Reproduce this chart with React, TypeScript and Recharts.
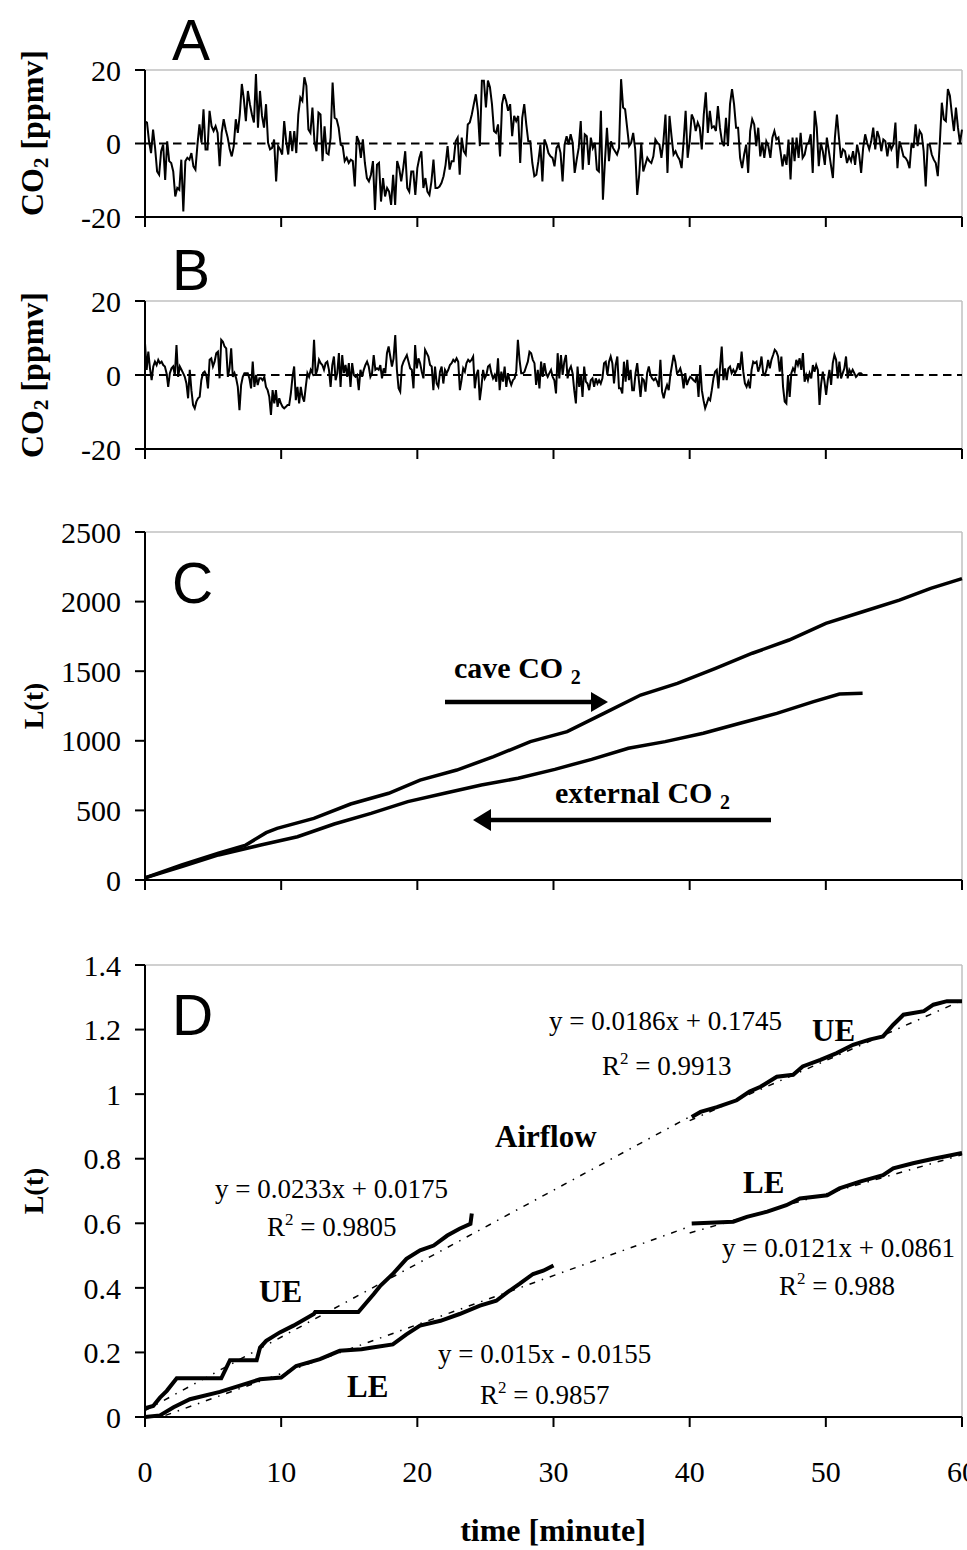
import { LineChart, Line, XAxis, YAxis, ReferenceLine } from "recharts";

// A: CO2 deviation [ppmv], one reading roughly every 9 s, 0-60 min
const co2A_0_15 = [
  6.0, 5.7, 0.6, -2.6, 3.8, -1.2, -7.6, -8.5, -2.1, -0.3,
  -9.9, 0.6, -4.8, -5.3, -7.6, -14.4, -12.1, -12.6, -4.4, -18.5,
  -4.8, -3.9, -4.4, -2.6, -6.2, -7.1, -0.3, 5.2, 0.2, 9.3,
  -1.6, -1.6, 8.9, 4.7, 3.4, 4.7, 2.9, -6.2, 2.9, 6.6,
  3.8, 1.6, -1.6, -3.5, -0.7, 6.6, 2.9, 7.9, 16.2, 12.1,
  6.1, 14.3, 10.7, 7.9, 5.7, 18.9, 4.3, 14.3, 7.5, 4.3,
  10.7, 0.2, -1.6, -1.2, 1.1, -10.3, -0.7, -1.6, -3.0, 6.1,
  0.6, -3.0, 3.4, -2.1, 3.4, -2.6, 7.9, 12.5, 11.6, 18.0,
  15.7, 3.8, 2.9, 9.8, 0.6, -2.1, 8.4, 7.9, -4.8, 4.7,
  -2.6, -3.0, 1.6, 16.6, 7.0, 6.6,
];
const co2A_15_30 = [
  4.3, -0.3, -0.7, -4.8, -3.9, -5.3, -4.4, -4.8, -11.7,
  2.0, 0.6, -3.9, 1.1, -5.3, -9.4, -10.3, -8.5, -4.8, -18.1,
  -5.8, -5.3, -15.8, -9.4, -14.4, -12.1, -13.1, -16.7, -8.5, -16.7,
  -4.8, -6.7, -10.3, -6.7, -2.1, -12.1, -13.1, -7.6, -7.6, -14.0,
  -6.7, -3.9, -2.1, -12.1, -9.4, -13.1, -14.0, -10.3, -4.4, -12.1,
  -12.1, -11.7, -10.7, -8.9, -5.8, -0.7, -7.1, -4.8, -4.8, 0.6,
  1.6, -8.5, 1.6, -2.1, -3.0, 5.2, 5.7, 7.9, 10.7, 13.4,
  8.9, -0.7, 17.1, 17.1, 9.8, 17.1, 15.3, 10.7, 3.4, 2.9,
  5.2, -3.5, 10.7, 13.4, 11.6, 8.9, 10.7, 2.0, 7.5, 6.1,
  7.5, -5.3, 7.0, 10.7, 5.2, 0.6, 0.6, -5.3, -8.9, -8.5,
  -4.8, -0.3, -10.3, 1.1,
];
const co2A_30_45 = [
  -0.3, -2.6, -3.5, -3.9, -6.2, -1.2, -0.3, -2.6, -10.3, -0.3,
  2.0, -0.3, 2.5, 0.2, -8.0, -4.4, -1.2, 6.1, -7.1, 2.5,
  2.0, -5.8, 1.6, -1.2, 0.2, -7.1, -7.6, 8.9, -15.3, -4.8,
  4.3, -4.8, 0.6, -1.2, -2.1, -3.0, -1.2, 17.5, 9.8, 9.3,
  4.3, -0.7, 0.2, 2.9, -1.6, -14.0, -8.5, 0.2, -7.6, -5.8,
  -3.9, -4.8, -5.3, -3.5, 1.1, 0.2, -0.3, -3.9, 0.6, 7.9,
  -8.0, 7.5, 2.0, -3.0, -2.1, -3.5, -4.4, -6.7, 0.6, 8.9,
  -3.9, 0.6, 7.9, 6.6, 3.4, 5.7, 4.3, -1.6, 7.9, 13.9,
  2.9, 8.9, 4.3, 4.7, 3.4, 10.2, 4.3, 0.6, -0.7, 7.0,
  -0.7, 10.7, 14.8, 10.7, 4.3, 4.3, -3.9, -6.7, -3.0, -0.3,
  -8.0, 3.4, 6.6,
];
const co2A_45_60 = [
  5.2, -0.7, 4.3, -3.5, 0.2, -3.9, 0.6, -0.7, -3.9, 1.6,
  3.4, 1.1, 1.6, -2.1, -6.2, -3.0, -5.8, 1.1, -9.8, 1.6,
  -4.8, 1.6, -3.9, 2.9, -3.9, -3.0, -0.3, 0.2, 2.5, -8.0,
  8.9, 4.3, -6.2, 0.2, -2.1, -5.8, 1.6, -2.1, -5.8, -9.4,
  1.6, 7.9, 1.6, -3.9, -1.6, -2.1, -5.3, -3.5, -4.8, -2.1,
  -5.8, -0.3, -3.0, -8.0, -1.2, 2.5, 0.2, -1.6, 0.6, 4.3,
  -1.6, 3.4, 1.6, -2.1, 1.1, 0.6, -3.5, 0.2, -1.6, -0.3,
  5.7, -6.7, 0.6, -1.2, -3.5, -3.9, -4.8, -6.7, 0.2, -1.2,
  5.2, -0.7, 3.4, 2.5, -2.1, -11.7, -0.3, -0.3, -3.0, -4.4,
  -5.3, -8.9, 0.2, 11.1, 6.6, 6.1, 14.8, 13.0, 7.9, 3.4,
  9.8, 4.3, 0.2, 3.8,
];

// B: same measurement, record stops at about 52.7 min
const B_END = 52.7;
const co2B_0_18 = [
  8.6, 1.4, 6.3, 1.8, -1.4, 2.3, 3.6, 2.7, 4.1, 3.2,
  3.6, 2.7, 2.3, 0.5, -3.2, 0.5, 1.8, 2.3, 0, 8.1,
  -0.5, 2.3, 1.4, 0.5, -0.5, -2.3, -6.3, 1.4, -4.1, -8.1,
  -9.0, -7.2, -6.3, -5.9, -1.4, 0.5, 0.9, 0, -3.6, 4.1,
  4.5, 2.3, 3.6, 5.9, 6.3, -0.9, 9.5, 9.0, 7.7, 7.2,
  -0.5, 1.8, 7.2, -0.5, 0.5, -0.9, -3.2, -9.5, -2.7, -0.5,
  0.5, 0.5, 0.5, -0.9, -3.6, 3.6, -3.2, 0, -2.7, -0.9,
  -0.9, -1.4, -0.5, -3.2, -4.1, -5.9, -10.8, -4.1, -7.7, -4.1,
  -8.6, -6.3, -7.7, -8.6, -9.0, -8.6, -8.1, -8.1, -5.0, -0.5,
  2.3, -6.8, -3.2, -7.7, -3.2, -5.9, -7.2, -3.2, 0.5, -0.5,
  1.4, 0.5, 9.5, 0, 1.4, 4.1, 3.2, 2.7, 1.4, 3.2,
  3.6, 1.4, -3.2, 2.7, 5.0, -1.4, 0.5, 5.9, -3.2, 5.4,
  0.5, 2.7, -0.5, 3.2, -3.2, 3.2, 0, -0.5, 0, -4.1,
  1.4, -0.5, 1.4, 2.7, 3.6, 2.3, -0.5, 0.5, 5.4, 1.4,
  1.8, 1.4, 2.7, -0.9, 1.8, 0.5, 5.9, 7.7,
];
const co2B_18_36 = [
  5.0, 2.3, 4.5, 10.8, 1.4, -3.6, -4.5, 2.3, 3.6, 4.5,
  5.4, 3.6, 1.8, 1.4, -3.6, 8.1, 1.8, 4.5, 3.2, 0.9,
  -0.9, 6.8, 5.9, 5.0, 2.7, 2.3, -4.1, 2.3, -2.3, -3.2,
  0.9, 2.3, -2.3, 1.4, 0.5, 1.4, 2.7, 3.2, 4.1, 3.6,
  4.5, 3.6, -4.1, -1.4, 1.8, 0.9, 3.2, 4.1, 3.6, 4.1,
  5.0, -3.6, 0, 1.4, -6.8, -3.2, 1.4, -0.9, 0, 2.3,
  2.7, 0.5, -0.9, 0, -1.8, 4.5, -4.1, 0.9, -1.8, 2.3,
  -3.2, 0.5, -1.4, -2.7, -1.4, -0.9, 0.9, 9.5, 4.1, 0.5,
  0.5, 0.9, 2.3, 3.6, 6.3, 5.9, 4.1, 3.2, -2.7, 1.4,
  -3.6, 3.6, -0.5, 3.2, 0.5, -0.5, 0.5, 1.4, -0.5, -1.4,
  -5.0, 5.9, -0.9, 5.4, 0, 3.6, 5.4, -0.9, 1.4, 2.3,
  0.5, -4.1, -7.7, 2.3, -3.2, 0, -5.9, 2.3, -1.8, -2.3,
  -4.1, -1.4, -0.9, -3.2, -0.9, -2.3, -1.4, -2.3, -0.9, 3.2,
  3.6, 0, 3.6, 5.0, 3.2, -2.3, 2.7, 5.0, -3.6, -3.6,
  -5.0, 3.6, -1.8, 4.1, -1.4, 1.4, -4.1,
];
const co2B_36_53 = [
  -4.1, 0.5, 3.2, -1.4, -5.9, -0.9, -1.4, -4.5, 0.5, 2.3,
  0, -0.9, -1.4, -0.9, -1.8, -3.2, 4.1, -4.5, -6.3, -4.1,
  -2.7, -4.1, 0, 2.7, 5.4, 3.6, 0.5, 0.9, 1.8, 0,
  -3.6, 0.5, -2.7, -1.4, -0.5, -0.9, -1.4, -1.8, 0, -5.9,
  2.7, -4.1, -6.8, -9.0, -7.7, -6.3, -6.8, -4.1, -0.9, 0.9,
  1.4, -3.6, 2.3, 7.7, -1.4, 1.8, -1.4, 1.8, 2.3, 0.5,
  1.4, 0.5, 1.4, 3.2, 1.4, 6.3, 0.9, -2.3, -3.2, -1.8,
  -3.6, 1.4, 3.6, 3.2, 3.6, 0.9, 2.3, 5.0, 0.5, 0,
  1.4, 4.1, 1.8, 4.1, 5.4, 6.8, 6.3, 5.0, 0.9, 5.0,
  -3.2, -7.2, -7.7, 0, -5.9, 0.5, 1.8, 0.9, 4.1, 2.7,
  4.5, 1.4, 5.9, -1.8, 0, -1.4, 0.5, -0.9, 2.7, 0.9,
  2.7, 1.4, -8.1, -2.3, 0.9, -1.8, -5.4, -1.4, 1.4, -2.7,
  3.2, 5.4, 4.1, -0.9, 3.6, -0.9, 0.5, 1.8, 5.0, -0.9,
  1.4, 0.5, 1.4, 0.5, -0.5, 0, 0.5, 0.5, 0,
];

// C: cumulative L(t)
const caveT = [0, 2.7, 5.4, 7.4, 8.9, 9.7, 12.4, 15.1, 17.9, 20.2, 22.9, 25.6, 28.3, 31.0, 33.7, 36.4, 39.1, 41.9, 44.6, 47.3, 50.0, 52.7, 55.4, 57.7, 60];
const caveL = [15, 108, 192, 251, 340, 371, 443, 546, 623, 718, 790, 886, 994, 1066, 1197, 1329, 1413, 1521, 1629, 1724, 1844, 1927, 2011, 2095, 2165];
const extT = [0, 2.7, 5.4, 8.5, 11.2, 13.9, 16.6, 19.3, 22.0, 24.7, 27.4, 30.1, 32.8, 35.5, 38.2, 41.0, 43.7, 46.4, 49.1, 51.0, 52.7];
const extL = [15, 96, 180, 251, 311, 402, 479, 563, 623, 682, 731, 795, 867, 946, 994, 1054, 1126, 1197, 1281, 1336, 1341];

// D: normalised L(t), upper (UE) and lower (LE) entrance
const ueEarlyT = [0, 0.6, 1.1, 1.6, 2.33, 5.6, 6.24, 8.2, 8.45, 8.9, 9.9, 10.9, 12.4, 12.5, 15.67, 16.8, 17.3, 18.2, 19.2, 20.2, 21.2, 22.2, 23.1, 23.9, 24.0];
const ueEarlyL = [0.027, 0.034, 0.06, 0.081, 0.12, 0.12, 0.176, 0.176, 0.215, 0.236, 0.262, 0.283, 0.319, 0.325, 0.325, 0.381, 0.407, 0.443, 0.49, 0.516, 0.531, 0.562, 0.583, 0.598, 0.63];
const leEarlyT = [0, 1.1, 2.1, 3.3, 5.5, 7.5, 8.45, 10.0, 11.1, 12.85, 14.3, 15.9, 16.7, 18.2, 19.2, 20.2, 21.7, 23.1, 24.6, 25.8, 26.6, 27.5, 28.5, 29.25, 30.0];
const leEarlyL = [0.0, 0.005, 0.03, 0.055, 0.078, 0.104, 0.117, 0.122, 0.158, 0.179, 0.205, 0.21, 0.215, 0.225, 0.256, 0.283, 0.298, 0.319, 0.345, 0.36, 0.386, 0.412, 0.443, 0.453, 0.469];
const ueLateT = [40.15, 40.8, 42.0, 43.45, 44.4, 45.2, 46.4, 47.6, 48.3, 49.6, 50.8, 52.0, 53.2, 54.2, 54.95, 55.7, 57.2, 57.9, 58.9, 60];
const ueLateL = [0.929, 0.945, 0.96, 0.981, 1.008, 1.023, 1.054, 1.06, 1.086, 1.106, 1.127, 1.153, 1.169, 1.179, 1.215, 1.246, 1.257, 1.277, 1.288, 1.288];
const leLateT = [40.15, 43.2, 44.2, 45.7, 47.1, 48.1, 50.1, 51.0, 52.5, 54.2, 54.95, 56.4, 57.9, 59.1, 60];
const leLateL = [0.599, 0.605, 0.62, 0.636, 0.656, 0.677, 0.687, 0.708, 0.729, 0.749, 0.77, 0.786, 0.8, 0.81, 0.818];

// trend lines (end points as drawn)
const ueFitEarlyT = [0, 40];
const ueFitEarlyL = [0.02, 0.93];
const ueFitLateT = [40, 60];
const ueFitLateL = [0.918, 1.29];
const leFitEarlyT = [1.5, 40];
const leFitEarlyL = [0.005, 0.59];
const leFitLateT = [40, 60];
const leFitLateL = [0.57, 0.812];

const xTicks = [0, 10, 20, 30, 40, 50, 60];
const co2Ticks = [-20, 0, 20];
const cTicks = [0, 500, 1000, 1500, 2000, 2500];
const dTicks = [0, 0.2, 0.4, 0.6, 0.8, 1, 1.2, 1.4];

const evenly = (vals: number[], span: number) =>
  vals.map((v, i) => ({ t: (i * span) / (vals.length - 1), v }));
const paired = (ts: number[], vs: number[]) => ts.map((t, i) => ({ t, v: vs[i] }));

const seriesA = evenly([...co2A_0_15, ...co2A_15_30, ...co2A_30_45, ...co2A_45_60], 60);
const seriesB = evenly([...co2B_0_18, ...co2B_18_36, ...co2B_36_53], B_END);

const SERIF = "'Liberation Serif', 'Times New Roman', serif";
const SANS = "'Liberation Sans', Arial, sans-serif";
const fitDash = "6 7 1.5 7";

// tick labels drawn by hand so the serif face sticks
const YTick = (p: any) => (
  <text x={p.x} y={p.y} dy="0.355em" textAnchor="end" fontFamily={SERIF} fontSize={30} fill="#000">
    {p.payload.value}
  </text>
);
const XTick = (p: any) => (
  <text x={p.x} y={p.y} dy="0.71em" textAnchor="middle" fontFamily={SERIF} fontSize={30} fill="#000">
    {p.payload.value}
  </text>
);
const NoTick = () => <g />;

function panel(
  top: number,
  height: number,
  marginTop: number,
  yDomain: [number, number],
  yTicks: number[],
  xHeight: number,
  showX: boolean,
  series: React.ReactNode[]
) {
  return (
    <div style={{ position: "absolute", left: 0, top, width: 1000, height }}>
      <LineChart width={1000} height={height} margin={{ top: marginTop, right: 38, bottom: 0, left: 0 }}>
        <XAxis
          type="number"
          dataKey="t"
          domain={[0, 60]}
          ticks={xTicks}
          interval={0}
          height={xHeight}
          tickSize={10}
          tickMargin={showX ? 34 : 2}
          tick={showX ? XTick : NoTick}
          axisLine={{ stroke: "#000", strokeWidth: 2 }}
          tickLine={{ stroke: "#000", strokeWidth: 2 }}
        />
        <YAxis
          type="number"
          domain={yDomain}
          ticks={yTicks}
          interval={0}
          width={145}
          tickSize={10}
          tickMargin={14}
          tick={YTick}
          axisLine={{ stroke: "#000", strokeWidth: 2 }}
          tickLine={{ stroke: "#000", strokeWidth: 2 }}
        />
        <ReferenceLine y={yDomain[1]} stroke="#c0c0c0" strokeWidth={1.5} />
        <ReferenceLine x={60} stroke="#c0c0c0" strokeWidth={1.5} />
        {series}
      </LineChart>
    </div>
  );
}

function lineOf(key: string, data: { t: number; v: number }[], width: number, dash?: string) {
  return (
    <Line
      key={key}
      data={data}
      dataKey="v"
      type="linear"
      stroke="#000"
      strokeWidth={width}
      strokeDasharray={dash}
      dot={false}
      activeDot={false}
      isAnimationActive={false}
    />
  );
}

const zeroLine = (k: string) => (
  <ReferenceLine key={k} y={0} stroke="#000" strokeWidth={2} strokeDasharray="8.5 5.5" />
);

function Sup({ x, y, value }: { x: number; y: number; value: string }) {
  return (
    <text x={x} y={y} fontFamily={SERIF} fontSize={27}>
      R<tspan dy={-11} fontSize={17}>2</tspan>
      <tspan dy={11}>{" = " + value}</tspan>
    </text>
  );
}

export default function App() {
  const eq = { fontFamily: SERIF, fontSize: 27 };
  const bold = { fontFamily: SERIF, fontSize: 31, fontWeight: 700 };
  const letter = { fontFamily: SANS, fontSize: 57 };
  return (
    <div
      style={{
        position: "absolute",
        left: 0,
        top: 0,
        width: 967,
        height: 1550,
        overflow: "hidden",
        background: "#fff",
        fontFamily: SERIF,
      }}
    >
      {panel(0, 240, 70, [-20, 20], co2Ticks, 23, false, [
        zeroLine("z"),
        lineOf("a", seriesA, 2),
      ])}
      {panel(240, 232, 61, [-20, 20], co2Ticks, 23, false, [
        zeroLine("z"),
        lineOf("b", seriesB, 2),
      ])}
      {panel(480, 423, 52, [0, 2500], cTicks, 23, false, [
        lineOf("ext", paired(extT, extL), 3.5),
        lineOf("cave", paired(caveT, caveL), 3.5),
      ])}
      {panel(910, 587, 55, [0, 1.4], dTicks, 80, true, [
        lineOf("uf1", paired(ueFitEarlyT, ueFitEarlyL), 1.5, fitDash),
        lineOf("uf2", paired(ueFitLateT, ueFitLateL), 1.5, fitDash),
        lineOf("lf1", paired(leFitEarlyT, leFitEarlyL), 1.5, fitDash),
        lineOf("lf2", paired(leFitLateT, leFitLateL), 1.5, fitDash),
        lineOf("ue1", paired(ueEarlyT, ueEarlyL), 4),
        lineOf("le1", paired(leEarlyT, leEarlyL), 4),
        lineOf("ue2", paired(ueLateT, ueLateL), 4),
        lineOf("le2", paired(leLateT, leLateL), 4),
      ])}

      <svg width={967} height={1550} style={{ position: "absolute", left: 0, top: 0, pointerEvents: "none" }}>
        <text x={172} y={60} {...letter}>A</text>
        <text x={172} y={290} {...letter}>B</text>
        <text x={172} y={603} {...letter}>C</text>
        <text x={172} y={1035} {...letter}>D</text>

        <text transform="translate(43,133) rotate(-90)" textAnchor="middle" {...bold} fontSize={32}>
          CO<tspan fontSize={21} dy={5}>2</tspan><tspan dy={-5}> [ppmv]</tspan>
        </text>
        <text transform="translate(43,375) rotate(-90)" textAnchor="middle" {...bold} fontSize={32}>
          CO<tspan fontSize={21} dy={5}>2</tspan><tspan dy={-5}> [ppmv]</tspan>
        </text>
        <text transform="translate(43,706) rotate(-90)" textAnchor="middle" {...bold} fontSize={28}>L(t)</text>
        <text transform="translate(43,1191) rotate(-90)" textAnchor="middle" {...bold} fontSize={28}>L(t)</text>

        <text x={454} y={678} {...bold} fontSize={30}>
          cave CO <tspan fontSize={20} dy={6}>2</tspan>
        </text>
        <line x1={445} y1={702} x2={594} y2={702} stroke="#000" strokeWidth={4.5} />
        <polygon points="591,692 608,702 591,712" fill="#000" />
        <text x={555} y={803} {...bold} fontSize={30}>
          external CO <tspan fontSize={20} dy={6}>2</tspan>
        </text>
        <line x1={771} y1={820} x2={488} y2={820} stroke="#000" strokeWidth={4.5} />
        <polygon points="491,809 473,820 491,831" fill="#000" />

        <text x={215} y={1198} {...eq}>y = 0.0233x + 0.0175</text>
        <Sup x={267} y={1236} value="0.9805" />
        <text x={259} y={1302} {...bold}>UE</text>
        <text x={347} y={1397} {...bold}>LE</text>
        <text x={438} y={1363} {...eq}>y = 0.015x - 0.0155</text>
        <Sup x={480} y={1404} value="0.9857" />
        <text x={495} y={1147} {...bold}>Airflow</text>
        <text x={549} y={1030} {...eq}>y = 0.0186x + 0.1745</text>
        <text x={812} y={1041} {...bold}>UE</text>
        <Sup x={602} y={1075} value="0.9913" />
        <text x={743} y={1193} {...bold}>LE</text>
        <text x={722} y={1257} {...eq}>y = 0.0121x + 0.0861</text>
        <Sup x={779} y={1295} value="0.988" />

        <text x={553} y={1541} textAnchor="middle" {...bold} fontSize={32}>time [minute]</text>
      </svg>
    </div>
  );
}
